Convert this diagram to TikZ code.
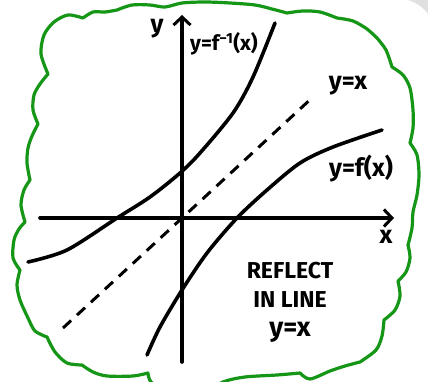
\documentclass[tikz,border=0pt]{standalone}
\usepackage{fontspec}
\setmainfont{Fira Sans}
\usetikzlibrary{arrows.meta,positioning}

\definecolor{cloudgreen}{RGB}{22,150,22}

\begin{document}
\begin{tikzpicture}[x=1pt,y=-1pt,
    cloud/.style={draw=cloudgreen, line width=3.2pt, line join=round, line cap=round},
    axis/.style={draw=black, line width=3.6pt, line cap=round,
        -{Straight Barb[length=8pt,width=17pt,line width=3pt]}},
    graph/.style={draw=black, line width=3.6pt, line cap=round},
    mirror/.style={draw=black, line width=3pt, dash pattern=on 11pt off 8pt},
    label/.style={font=\fontsize{25}{29}\selectfont\bfseries, inner sep=0pt},
    note/.style={font=\fontsize{23}{29}\selectfont\bfseries, inner sep=0pt, align=center}]

\useasboundingbox (0,0) rectangle (428,382);

% Shadow corner of the card
\fill[black!12] (408,0) .. controls (417,3) and (424,8) .. (428,14) -- (428,0) -- cycle;

% Cloud outline
\draw[cloud] plot[smooth] coordinates {(48,74) (41,54) (44,35) (54,22) (68,15) (83,18)}
  -- plot[smooth] coordinates {(83,18) (93,12) (105,12) (117,10)}
  -- plot[smooth] coordinates {(117,10) (132,5) (150,5) (165,7) (182,3) (205,2) (230,3) (255,5) (272,9) (287,13)}
  -- plot[smooth] coordinates {(287,13) (303,11) (320,12) (337,18)}
  -- plot[smooth] coordinates {(337,18) (353,21) (367,29) (377,38)}
  -- plot[smooth] coordinates {(377,38) (386,50) (392,67)}
  -- plot[smooth] coordinates {(392,67) (403,75) (410,88) (413,110) (413,128) (410,143)}
  -- plot[smooth] coordinates {(410,143) (417,155) (419,175) (417,195) (413,212) (412,228) (408,245)}
  -- plot[smooth] coordinates {(408,245) (410,258) (406,272) (398,281)}
  -- plot[smooth] coordinates {(398,281) (400,296) (395,310) (384,320)}
  -- plot[smooth] coordinates {(384,320) (382,336) (376,350) (360,362)}
  -- plot[smooth] coordinates {(360,362) (345,366) (330,371) (310,379) (300,373)}
  -- plot[smooth] coordinates {(300,373) (277,375) (245,377) (223,382) (200,395) (175,395) (152,383) (148,373)}
  -- plot[smooth] coordinates {(148,373) (133,376) (107,376) (93,372) (82,365)}
  -- plot[smooth] coordinates {(82,365) (67,363) (55,352) (47,337)}
  -- plot[smooth] coordinates {(47,337) (35,331) (28,318) (20,300) (17,285) (20,270)}
  -- plot[smooth] coordinates {(20,270) (13,258) (14,240) (19,229) (25,222)}
  -- plot[smooth] coordinates {(25,222) (21,205) (24,190) (30,180)}
  -- plot[smooth] coordinates {(30,180) (27,163) (28,148) (32,136) (38,124)}
  -- plot[smooth] coordinates {(38,124) (33,110) (34,95) (40,84) (48,74)} -- cycle;

% Axes
\coordinate (origin) at (182,218);
\coordinate (xstart) at (40,218);
\coordinate (xend) at (394,218);
\coordinate (ystart) at (182,362);
\coordinate (yend) at (182,15);
\draw[axis] (xstart) -- (xend);
\draw[axis] (ystart) -- (yend);
\node[label] (xlab) at (386,237) {x};
\node[label] (ylab) at (157,29) {y};

% Line of reflection
\coordinate (mirrorA) at (63,328);
\coordinate (mirrorB) at (313,97);
\draw[mirror] (mirrorA) -- (mirrorB);

% Function and inverse
\draw[graph] plot[smooth] coordinates {(147,355) (160,327) (182,290) (207,253) (237,218) (267,190) (300,163) (333,147) (382,130)};
\draw[graph] plot[smooth] coordinates {(28,262) (67,250) (117,218) (150,197) (180,173) (200,153) (233,113) (253,77) (275,23)};

\node[label, font=\fontsize{21}{25}\selectfont\bfseries] (invlab) at (224,44) {y=f\textsuperscript{−1}(x)};
\node[label] (idlab) at (348,86) {y=x};
\node[label] (flab) at (361,169) {y=f(x)};

\node[note] (reflect) at (290,302) {REFLECT\\IN LINE\\{\fontsize{27}{29}\selectfont y=x}};
\end{tikzpicture}
\end{document}
